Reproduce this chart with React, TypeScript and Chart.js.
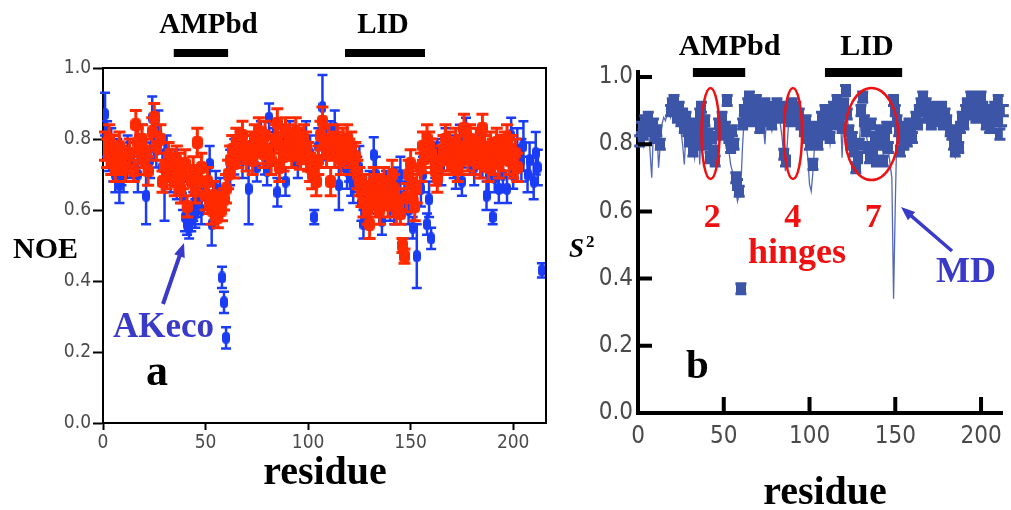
import React, { useEffect, useRef } from "react";
import { Chart, registerables } from "chart.js";

Chart.register(...registerables);

const SERIF = '"Liberation Serif", "Times New Roman", "DejaVu Serif", serif';
const NARROW = '"Liberation Sans Narrow", "DejaVu Sans Condensed", "Liberation Sans", sans-serif';

const BLUE_PTS = "#1b3cf5";
const RED_PTS = "#ff2a00";
const S2_COLOR = "#3d55a6";
const LABEL_BLUE = "#3a3ac8";
const LABEL_RED = "#ee1111";

// ---------------- Panel a : NOE ----------------
const noeTicks = [0, 0.2, 0.4, 0.6, 0.8, 1.0];
const residueTicksA = [0, 50, 100, 150, 200];
const ampbdA = [34.5, 61];
const lidA = [118, 157];

// [residue, NOE, error]
const akecoNOE: [number, number, number][] = [
  [1,0.87,0.06],[2,0.80,0.05],[3,0.76,0.05],[4,0.78,0.05],[5,0.73,0.05],[6,0.70,0.05],[7,0.75,0.05],[8,0.67,0.05],[9,0.72,0.05],[10,0.70,0.05],
  [12,0.76,0.05],[13,0.74,0.05],[15,0.72,0.04],[17,0.70,0.05],[19,0.78,0.06],[21,0.64,0.08],[23,0.74,0.05],[24,0.86,0.06],[25,0.80,0.06],[26,0.77,0.05],
  [27,0.82,0.06],[29,0.72,0.05],[30,0.69,0.12],[31,0.76,0.05],[33,0.70,0.05],[35,0.72,0.05],[36,0.68,0.05],[38,0.66,0.04],[39,0.64,0.04],[40,0.58,0.04],
  [41,0.56,0.03],[42,0.55,0.03],[43,0.57,0.03],[44,0.61,0.04],[45,0.59,0.04],[46,0.62,0.04],[47,0.63,0.04],[48,0.60,0.04],[50,0.65,0.04],[52,0.73,0.05],
  [53,0.56,0.06],[55,0.66,0.05],[57,0.64,0.05],[58,0.41,0.03],[59,0.34,0.03],[60,0.24,0.03],[62,0.72,0.05],[64,0.75,0.05],[66,0.78,0.05],[68,0.74,0.05],
  [71,0.66,0.10],[73,0.76,0.05],[75,0.72,0.04],[77,0.80,0.05],[79,0.75,0.05],[80,0.71,0.04],[81,0.86,0.04],[83,0.78,0.05],[85,0.65,0.04],[87,0.79,0.05],
  [89,0.68,0.04],[91,0.80,0.05],[93,0.77,0.05],[95,0.73,0.04],[97,0.78,0.05],[99,0.80,0.05],[101,0.76,0.05],[103,0.58,0.02],[105,0.78,0.05],[107,0.89,0.09],
  [109,0.79,0.05],[111,0.80,0.05],[113,0.83,0.05],[115,0.67,0.07],[117,0.76,0.05],[119,0.71,0.05],[120,0.73,0.05],[121,0.69,0.05],[122,0.67,0.05],[124,0.70,0.05],
  [125,0.72,0.06],[126,0.62,0.05],[127,0.56,0.04],[128,0.60,0.04],[130,0.65,0.06],[132,0.755,0.05],[133,0.70,0.05],[134,0.63,0.04],[136,0.57,0.04],[138,0.66,0.05],
  [140,0.62,0.05],[142,0.60,0.04],[143,0.67,0.05],[145,0.70,0.05],[147,0.64,0.04],[149,0.60,0.04],[151,0.55,0.03],[153,0.47,0.09],[155,0.66,0.05],[156,0.70,0.05],
  [158,0.56,0.03],[159,0.63,0.05],[160,0.52,0.03],[162,0.74,0.05],[163,0.75,0.05],[165,0.72,0.05],[167,0.78,0.05],[169,0.76,0.05],[171,0.74,0.05],[172,0.71,0.05],
  [174,0.79,0.05],[175,0.68,0.04],[177,0.80,0.06],[179,0.75,0.05],[181,0.72,0.05],[183,0.78,0.05],[185,0.74,0.05],[187,0.64,0.04],[188,0.70,0.05],[190,0.58,0.02],
  [191,0.69,0.04],[193,0.66,0.04],[195,0.70,0.05],[197,0.66,0.04],[199,0.81,0.05],[200,0.70,0.04],[202,0.77,0.06],[204,0.74,0.06],[205,0.78,0.07],[207,0.70,0.05],
  [208,0.74,0.05],[210,0.68,0.05],[211,0.76,0.06],[212,0.72,0.05],[214,0.43,0.02],
];

// [residue, NOE, error]
const redNOE: [number, number, number][] = [
  [1,0.78,0.04],[2,0.76,0.04],[3,0.80,0.04],[4,0.74,0.04],[5,0.77,0.04],[6,0.72,0.04],[8,0.78,0.04],[9,0.74,0.04],[11,0.72,0.04],[13,0.76,0.04],
  [15,0.71,0.03],[16,0.84,0.04],[17,0.79,0.04],[18,0.77,0.04],[19,0.80,0.04],[20,0.74,0.04],[21,0.76,0.04],[22,0.71,0.04],[24,0.82,0.04],[25,0.86,0.04],
  [26,0.78,0.04],[28,0.80,0.04],[29,0.68,0.03],[30,0.72,0.04],[31,0.70,0.04],[32,0.75,0.04],[33,0.73,0.04],[34,0.71,0.04],[35,0.68,0.04],[36,0.74,0.04],
  [37,0.72,0.04],[38,0.66,0.04],[39,0.70,0.04],[40,0.73,0.04],[41,0.61,0.03],[43,0.68,0.04],[44,0.71,0.04],[45,0.66,0.04],[46,0.79,0.04],[47,0.68,0.04],
  [48,0.72,0.04],[50,0.64,0.04],[51,0.68,0.04],[52,0.62,0.03],[53,0.60,0.04],[54,0.64,0.04],[55,0.61,0.03],[56,0.58,0.03],[57,0.62,0.03],[58,0.60,0.03],
  [59,0.63,0.03],[60,0.66,0.04],[61,0.70,0.04],[62,0.74,0.04],[63,0.77,0.04],[64,0.73,0.04],[65,0.79,0.04],[66,0.76,0.04],[67,0.78,0.04],[68,0.81,0.04],
  [69,0.77,0.04],[70,0.75,0.04],[72,0.78,0.04],[73,0.74,0.04],[74,0.80,0.04],[75,0.77,0.04],[76,0.82,0.04],[77,0.79,0.04],[78,0.76,0.04],[79,0.81,0.04],
  [80,0.77,0.04],[82,0.74,0.04],[84,0.80,0.04],[85,0.845,0.04],[86,0.72,0.04],[87,0.78,0.04],[88,0.75,0.04],[89,0.82,0.04],[90,0.78,0.04],[91,0.80,0.04],
  [92,0.76,0.04],[93,0.78,0.04],[94,0.82,0.04],[95,0.79,0.04],[96,0.755,0.04],[97,0.77,0.04],[98,0.80,0.04],[99,0.78,0.04],[100,0.75,0.04],[101,0.72,0.04],
  [102,0.70,0.04],[104,0.68,0.04],[105,0.74,0.04],[106,0.81,0.04],[107,0.85,0.04],[108,0.79,0.04],[109,0.76,0.04],[110,0.80,0.04],[111,0.68,0.04],[112,0.78,0.04],
  [113,0.76,0.04],[114,0.80,0.04],[115,0.78,0.04],[116,0.74,0.04],[117,0.79,0.04],[118,0.77,0.04],[119,0.80,0.04],[120,0.76,0.04],[121,0.78,0.04],[122,0.74,0.04],
  [123,0.75,0.04],[124,0.70,0.04],[125,0.68,0.04],[126,0.65,0.04],[127,0.62,0.04],[128,0.66,0.04],[129,0.60,0.04],[130,0.56,0.04],[131,0.64,0.04],[132,0.68,0.04],
  [133,0.62,0.04],[134,0.66,0.04],[135,0.60,0.04],[136,0.64,0.04],[137,0.68,0.04],[139,0.62,0.04],[140,0.64,0.04],[141,0.70,0.04],[142,0.66,0.04],[143,0.60,0.04],
  [144,0.62,0.04],[145,0.59,0.03],[146,0.50,0.02],[147,0.47,0.02],[148,0.635,0.04],[149,0.70,0.04],[150,0.73,0.04],[151,0.67,0.04],[152,0.61,0.04],[153,0.66,0.04],
  [155,0.72,0.04],[156,0.78,0.04],[157,0.745,0.04],[158,0.80,0.04],[159,0.78,0.04],[160,0.76,0.04],[162,0.71,0.04],[163,0.69,0.04],[165,0.74,0.04],[166,0.77,0.04],
  [167,0.80,0.04],[168,0.75,0.04],[169,0.78,0.04],[170,0.74,0.04],[171,0.76,0.04],[172,0.79,0.04],[173,0.72,0.04],[174,0.77,0.04],[175,0.74,0.04],[176,0.83,0.04],
  [177,0.78,0.04],[178,0.75,0.04],[179,0.80,0.04],[180,0.77,0.04],[181,0.74,0.04],[182,0.79,0.04],[183,0.76,0.04],[184,0.73,0.04],[185,0.83,0.04],[186,0.77,0.04],
  [187,0.75,0.04],[188,0.72,0.04],[189,0.78,0.04],[190,0.76,0.04],[191,0.74,0.04],[192,0.79,0.04],[193,0.73,0.04],[194,0.77,0.04],[195,0.75,0.04],[196,0.78,0.04],
  [197,0.80,0.04],[198,0.74,0.04],[199,0.77,0.04],[200,0.73,0.04],[201,0.76,0.04],[202,0.72,0.04],
];

// ---------------- Panel b : S2 ----------------
const s2Ticks = [0, 0.2, 0.4, 0.6, 0.8, 1.0];
const residueTicksB = [0, 50, 100, 150, 200];
const ampbdB = [32, 62.5];
const lidB = [109, 154];

// MD-derived S2, residues 1..213
const mdS2: number[] = [
  0.82,0.84,0.80,0.86,0.83,0.85,0.78,0.70,0.84,0.82,
  0.85,0.73,0.80,0.86,0.88,0.87,0.89,0.90,0.88,0.91,
  0.90,0.88,0.86,0.89,0.84,0.80,0.74,0.84,0.82,0.78,
  0.84,0.80,0.76,0.82,0.85,0.74,0.88,0.83,0.86,0.79,
  0.82,0.78,0.80,0.76,0.79,0.84,0.86,0.82,0.87,0.84,
  0.80,0.86,0.78,0.74,0.72,0.70,0.66,0.63,0.65,0.68,
  0.80,0.88,0.90,0.91,0.92,0.89,0.88,0.90,0.91,0.87,
  0.84,0.89,0.86,0.80,0.88,0.90,0.86,0.84,0.89,0.91,
  0.90,0.88,0.86,0.82,0.76,0.72,0.80,0.88,0.86,0.90,
  0.88,0.90,0.86,0.88,0.84,0.82,0.85,0.80,0.76,0.68,
  0.66,0.72,0.80,0.84,0.82,0.86,0.87,0.84,0.88,0.83,
  0.86,0.80,0.84,0.89,0.87,0.90,0.86,0.89,0.76,0.90,
  0.92,0.88,0.83,0.79,0.81,0.77,0.74,0.76,0.80,0.88,
  0.90,0.86,0.83,0.80,0.77,0.84,0.79,0.81,0.77,0.80,
  0.82,0.80,0.77,0.81,0.83,0.78,0.74,0.70,0.34,0.62,
  0.86,0.83,0.79,0.81,0.80,0.84,0.81,0.85,0.83,0.82,
  0.85,0.87,0.86,0.89,0.91,0.92,0.90,0.91,0.88,0.89,
  0.86,0.90,0.88,0.86,0.89,0.87,0.90,0.86,0.88,0.86,
  0.84,0.82,0.80,0.77,0.76,0.80,0.79,0.84,0.87,0.86,
  0.89,0.91,0.88,0.92,0.90,0.92,0.87,0.89,0.91,0.92,
  0.90,0.88,0.85,0.87,0.84,0.88,0.86,0.90,0.88,0.91,
  0.82,0.86,0.89,
];

// NMR S2 [residue, S2]
const nmrS2: [number, number][] = [
  [1,0.81],[2,0.85],[3,0.83],[4,0.87],[5,0.85],[6,0.88],[7,0.84],[9,0.86],[10,0.82],[11,0.84],[13,0.80],
  [19,0.90],[20,0.92],[21,0.93],[22,0.90],[23,0.88],[24,0.91],[25,0.87],[26,0.89],[27,0.85],[28,0.88],[29,0.84],[30,0.81],
  [31,0.86],[32,0.78],[33,0.83],[34,0.80],[35,0.86],[36,0.89],[37,0.91],[38,0.84],[39,0.87],[40,0.80],[41,0.83],[42,0.76],
  [43,0.82],[44,0.78],[45,0.75],[47,0.86],[48,0.83],[49,0.88],[51,0.85],[52,0.93],[53,0.82],[54,0.79],[55,0.84],[56,0.80],
  [57,0.70],[58,0.68],[59,0.66],[60,0.37],[61,0.86],[62,0.90],[63,0.88],[64,0.92],[65,0.94],[66,0.90],[67,0.87],[68,0.91],
  [69,0.93],[70,0.89],[71,0.85],[72,0.90],[73,0.87],[74,0.92],[75,0.89],[76,0.91],[77,0.88],[78,0.86],[80,0.90],[81,0.92],
  [82,0.89],[83,0.91],[84,0.88],[85,0.77],[86,0.75],[88,0.90],[89,0.87],[90,0.92],[91,0.89],[92,0.91],[93,0.87],[94,0.89],
  [95,0.86],[97,0.84],[98,0.87],[99,0.82],[100,0.80],[101,0.85],[102,0.74],[103,0.82],[104,0.85],[105,0.80],[106,0.83],
  [107,0.88],[108,0.86],[109,0.90],[110,0.84],[111,0.88],[112,0.82],[113,0.86],[114,0.91],[115,0.88],[116,0.93],[117,0.87],
  [118,0.90],[119,0.85],[120,0.92],[121,0.96],[122,0.89],[123,0.84],[124,0.80],[125,0.82],[126,0.78],[127,0.73],[128,0.76],
  [129,0.80],[130,0.90],[131,0.94],[132,0.87],[133,0.84],[134,0.79],[135,0.76],[136,0.86],[137,0.78],[138,0.82],[139,0.75],
  [140,0.81],[141,0.84],[142,0.80],[143,0.75],[144,0.82],[145,0.85],[146,0.79],[149,0.93],[150,0.90],[151,0.87],[152,0.84],
  [153,0.78],[154,0.82],[155,0.80],[156,0.85],[157,0.81],[158,0.86],[159,0.84],[160,0.82],[162,0.88],[163,0.86],[164,0.90],
  [165,0.92],[166,0.94],[167,0.90],[168,0.92],[169,0.88],[170,0.90],[171,0.86],[172,0.91],[173,0.89],[174,0.87],[175,0.90],
  [176,0.88],[177,0.91],[178,0.86],[179,0.89],[180,0.87],[182,0.84],[183,0.83],[184,0.80],[185,0.78],[186,0.82],[187,0.79],
  [188,0.85],[189,0.88],[190,0.86],[191,0.90],[192,0.92],[193,0.89],[194,0.94],[195,0.91],[196,0.93],[197,0.88],[198,0.90],
  [199,0.92],[200,0.94],[201,0.91],[202,0.89],[203,0.86],[204,0.88],[205,0.85],[206,0.90],[207,0.87],[208,0.91],[209,0.89],
  [210,0.93],[211,0.83],[212,0.87],[213,0.90],
];
const NMR_S2_ERR = 0.015;

// ---------------- helpers ----------------
function blobStyle(color: string, w: number, h: number, r: number) {
  const c = document.createElement("canvas");
  c.width = w;
  c.height = h;
  const g = c.getContext("2d")!;
  g.fillStyle = color;
  g.beginPath();
  g.roundRect(0, 0, w, h, r);
  g.fill();
  return c;
}

function drawText(ctx: CanvasRenderingContext2D, s: string, x: number, y: number, font: string, color: string, align: CanvasTextAlign = "center") {
  ctx.font = font;
  ctx.fillStyle = color;
  ctx.textAlign = align;
  ctx.textBaseline = "alphabetic";
  ctx.fillText(s, x, y);
}

function drawArrow(ctx: CanvasRenderingContext2D, x1: number, y1: number, x2: number, y2: number, color: string, width: number, head: number) {
  const ang = Math.atan2(y2 - y1, x2 - x1);
  ctx.strokeStyle = color;
  ctx.fillStyle = color;
  ctx.lineWidth = width;
  ctx.lineCap = "butt";
  ctx.beginPath();
  ctx.moveTo(x1, y1);
  ctx.lineTo(x2 - head * 0.8 * Math.cos(ang), y2 - head * 0.8 * Math.sin(ang));
  ctx.stroke();
  ctx.beginPath();
  ctx.moveTo(x2, y2);
  ctx.lineTo(x2 - head * Math.cos(ang - 0.38), y2 - head * Math.sin(ang - 0.38));
  ctx.lineTo(x2 - head * Math.cos(ang + 0.38), y2 - head * Math.sin(ang + 0.38));
  ctx.closePath();
  ctx.fill();
}

const errorBarPlugin = {
  id: "errorBars",
  beforeDatasetDraw(chart: any, args: any) {
    const ds: any = chart.data.datasets[args.index];
    if (!ds.errCap) return;
    const y = chart.scales.y;
    const ctx = chart.ctx as CanvasRenderingContext2D;
    ctx.save();
    ctx.strokeStyle = ds.borderColor;
    ctx.lineWidth = ds.errWidth;
    ctx.lineCap = "butt";
    ctx.beginPath();
    args.meta.data.forEach((el: any, i: number) => {
      const d = ds.data[i];
      const t = y.getPixelForValue(d.y + d.e);
      const b = y.getPixelForValue(d.y - d.e);
      ctx.moveTo(el.x, t);
      ctx.lineTo(el.x, b);
      ctx.moveTo(el.x - ds.errCap, t);
      ctx.lineTo(el.x + ds.errCap, t);
      ctx.moveTo(el.x - ds.errCap, b);
      ctx.lineTo(el.x + ds.errCap, b);
    });
    ctx.stroke();
    ctx.restore();
  },
};

const panelAPlugin = {
  id: "panelA",
  afterDraw(chart: any) {
    const { ctx, chartArea: a, scales } = chart;
    const x = scales.x;
    ctx.save();
    ctx.strokeStyle = "#000";
    ctx.lineWidth = 2;
    ctx.beginPath();
    ctx.moveTo(a.left, a.top);
    ctx.lineTo(a.right, a.top);
    ctx.lineTo(a.right, a.bottom);
    ctx.stroke();
    ctx.fillStyle = "#000";
    for (const [r0, r1] of [ampbdA, lidA]) {
      const x0 = x.getPixelForValue(r0);
      const x1 = x.getPixelForValue(r1);
      ctx.fillRect(x0, 49, x1 - x0, 8);
    }
    drawText(ctx, "AMPbd", 208.5, 33, `bold 29px ${SERIF}`, "#000");
    drawText(ctx, "LID", 383, 33, `bold 29px ${SERIF}`, "#000");
    drawText(ctx, "NOE", 45.5, 258, `bold 30px ${SERIF}`, "#000");
    drawText(ctx, "residue", 325, 484, `bold 40px ${SERIF}`, "#000");
    drawText(ctx, "AKeco", 113, 337, `bold 35px ${SERIF}`, LABEL_BLUE, "left");
    drawArrow(ctx, 163, 304, 184, 243, LABEL_BLUE, 4, 15);
    drawText(ctx, "a", 157, 385, `bold 44px ${SERIF}`, "#000");
    ctx.restore();
  },
};

const panelBPlugin = {
  id: "panelB",
  afterDraw(chart: any) {
    const { ctx, chartArea: a, scales } = chart;
    const x = scales.x;
    const y = scales.y;
    ctx.save();
    ctx.strokeStyle = "#000";
    ctx.lineWidth = 4;
    ctx.lineCap = "butt";
    ctx.beginPath();
    s2Ticks.forEach((v) => {
      if (v === 0) return;
      const py = y.getPixelForValue(v);
      ctx.moveTo(a.left, py);
      ctx.lineTo(a.left + 14, py);
    });
    residueTicksB.forEach((v) => {
      if (v === 0) return;
      const px = x.getPixelForValue(v);
      ctx.moveTo(px, a.bottom);
      ctx.lineTo(px, a.bottom - 16);
    });
    ctx.moveTo(a.left, a.top + 2);
    ctx.lineTo(a.left, a.top - 7);
    ctx.stroke();

    ctx.fillStyle = "#000";
    for (const [r0, r1] of [ampbdB, lidB]) {
      const x0 = x.getPixelForValue(r0);
      const x1 = x.getPixelForValue(r1);
      ctx.fillRect(x0, 68, x1 - x0, 9);
    }
    drawText(ctx, "AMPbd", 729.5 - 560, 55, `bold 30px ${SERIF}`, "#000");
    drawText(ctx, "LID", 867 - 560, 55, `bold 30px ${SERIF}`, "#000");

    // S² label
    drawText(ctx, "S", 569 - 560, 257, `italic bold 27px ${SERIF}`, "#000", "left");
    drawText(ctx, "2", 586 - 560, 247, `bold 17px ${SERIF}`, "#000", "left");
    drawText(ctx, "residue", 825 - 560, 504, `bold 40px ${SERIF}`, "#000");

    // hinge ellipses
    ctx.strokeStyle = LABEL_RED;
    ctx.lineWidth = 2.5;
    const ells = [
      [710.5, 133.5, 9, 45.5],
      [793, 133.5, 9, 45.5],
      [871.5, 134, 26.5, 46],
    ];
    for (const [cx, cy, rx, ry] of ells) {
      ctx.beginPath();
      ctx.ellipse(cx - 560, cy, rx, ry, 0, 0, Math.PI * 2);
      ctx.stroke();
    }
    drawText(ctx, "2", 712.3 - 560, 227, `bold 34px ${SERIF}`, LABEL_RED);
    drawText(ctx, "4", 792.7 - 560, 227, `bold 34px ${SERIF}`, LABEL_RED);
    drawText(ctx, "7", 873.3 - 560, 227, `bold 34px ${SERIF}`, LABEL_RED);
    drawText(ctx, "hinges", 797 - 560, 263, `bold 36px ${SERIF}`, LABEL_RED);

    drawText(ctx, "MD", 966 - 560, 282, `bold 36px ${SERIF}`, LABEL_BLUE);
    drawArrow(ctx, 952 - 560, 251, 901 - 560, 207, LABEL_BLUE, 3.5, 15);
    drawText(ctx, "b", 697.5 - 560, 378, `bold 41px ${SERIF}`, "#000");
    ctx.restore();
  },
};

function configA(): any {
  const blueBlob = blobStyle(BLUE_PTS, 8, 12, 4);
  const redBlob = blobStyle(RED_PTS, 11, 13, 4);
  return {
    type: "scatter",
    data: {
      datasets: [
        {
          label: "AKeco",
          order: 2,
          data: akecoNOE.map(([x, y, e]) => ({ x, y, e })),
          pointStyle: blueBlob,
          pointRadius: 6,
          backgroundColor: BLUE_PTS,
          borderColor: BLUE_PTS,
          errCap: 5,
          errWidth: 2.5,
        },
        {
          label: "red",
          order: 1,
          data: redNOE.map(([x, y, e]) => ({ x, y, e })),
          pointStyle: redBlob,
          pointRadius: 7,
          backgroundColor: RED_PTS,
          borderColor: RED_PTS,
          errCap: 6,
          errWidth: 3,
        },
      ],
    },
    options: {
      animation: false,
      responsive: false,
      maintainAspectRatio: false,
      layout: { padding: { left: 0, right: 14, top: 68, bottom: 0 } },
      plugins: { legend: { display: false }, tooltip: { enabled: false } },
      scales: {
        x: {
          type: "linear",
          min: 0,
          max: 216,
          afterBuildTicks: (s: any) => {
            s.ticks = residueTicksA.map((v) => ({ value: v }));
          },
          afterFit: (s: any) => {
            s.height = 87;
          },
          grid: { display: true, drawOnChartArea: false, drawTicks: true, tickLength: 7, tickWidth: 2, tickColor: "#000" },
          border: { display: true, width: 2, color: "#000" },
          ticks: { font: { family: NARROW, size: 19 }, color: "#4a4a4a", padding: 2, maxRotation: 0, autoSkip: false },
        },
        y: {
          type: "linear",
          min: 0,
          max: 1,
          afterBuildTicks: (s: any) => {
            s.ticks = noeTicks.map((v) => ({ value: v }));
          },
          afterFit: (s: any) => {
            s.width = 103;
          },
          grid: { display: true, drawOnChartArea: false, drawTicks: true, tickLength: 10, tickWidth: 2, tickColor: "#000" },
          border: { display: true, width: 2, color: "#000" },
          ticks: {
            font: { family: NARROW, size: 19 },
            color: "#4a4a4a",
            padding: 2,
            callback: (v: any) => Number(v).toFixed(1),
          },
        },
      },
    },
    plugins: [errorBarPlugin, panelAPlugin],
  };
}

function configB(): any {
  const nmrBlob = blobStyle(S2_COLOR, 10, 9, 0);
  return {
    type: "scatter",
    data: {
      datasets: [
        {
          label: "MD",
          order: 2,
          data: mdS2.map((v, i) => ({ x: i + 1, y: v })),
          showLine: true,
          borderColor: "#5468b8",
          borderWidth: 1.3,
          pointRadius: 0,
        },
        {
          label: "NMR",
          order: 1,
          data: nmrS2.map(([x, y]) => ({ x, y, e: NMR_S2_ERR })),
          pointStyle: nmrBlob,
          pointRadius: 5,
          backgroundColor: S2_COLOR,
          borderColor: S2_COLOR,
          errCap: 5.5,
          errWidth: 3,
        },
      ],
    },
    options: {
      animation: false,
      responsive: false,
      maintainAspectRatio: false,
      layout: { padding: { left: 0, right: 0, top: 77, bottom: 0 } },
      plugins: { legend: { display: false }, tooltip: { enabled: false } },
      scales: {
        x: {
          type: "linear",
          min: 0,
          max: 212.7,
          afterBuildTicks: (s: any) => {
            s.ticks = residueTicksB.map((v) => ({ value: v }));
          },
          afterFit: (s: any) => {
            s.height = 97;
          },
          grid: { display: false, drawTicks: false },
          border: { display: true, width: 4, color: "#000" },
          ticks: { font: { family: NARROW, size: 24 }, color: "#4a4a4a", padding: 9, maxRotation: 0, autoSkip: false },
        },
        y: {
          type: "linear",
          min: 0,
          max: 1,
          afterBuildTicks: (s: any) => {
            s.ticks = s2Ticks.map((v) => ({ value: v }));
          },
          afterFit: (s: any) => {
            s.width = 78;
          },
          grid: { display: false, drawTicks: false },
          border: { display: true, width: 4, color: "#000" },
          ticks: {
            font: { family: NARROW, size: 24 },
            color: "#4a4a4a",
            padding: 5,
            callback: (v: any) => Number(v).toFixed(1),
          },
        },
      },
    },
    plugins: [errorBarPlugin, panelBPlugin],
  };
}

export default function App() {
  const refA = useRef<HTMLCanvasElement>(null);
  const refB = useRef<HTMLCanvasElement>(null);
  useEffect(() => {
    const a = new Chart(refA.current!, configA());
    const b = new Chart(refB.current!, configB());
    return () => {
      a.destroy();
      b.destroy();
    };
  }, []);
  return (
    <div style={{ position: "absolute", left: 0, top: 0, width: 1011, height: 510, background: "#fff", overflow: "hidden" }}>
      <canvas ref={refA} width={560} height={510} style={{ position: "absolute", left: 0, top: 0, width: 560, height: 510 }} />
      <canvas ref={refB} width={451} height={510} style={{ position: "absolute", left: 560, top: 0, width: 451, height: 510 }} />
    </div>
  );
}
